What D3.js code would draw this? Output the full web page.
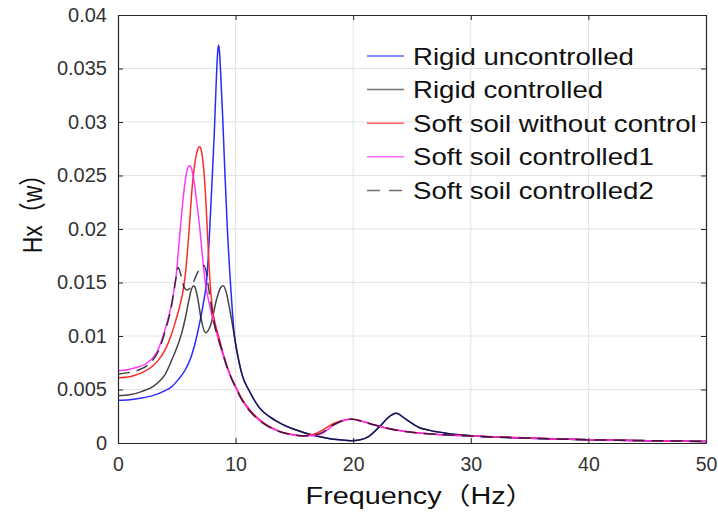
<!DOCTYPE html>
<html>
<head>
<meta charset="utf-8">
<script src="https://cdn.jsdelivr.net/npm/d3@7"></script>
<style>
  body { margin: 0; background: #fff; }
  text { font-family: "Liberation Sans", Arial, "Noto Sans CJK SC", sans-serif; }
</style>
</head>
<body>
<svg id="chart" width="718" height="512"></svg>
<script>
"use strict";

// [frequency (Hz), Hx]
const rigidUncontrolled = [
  [0,0.00400],[1,0.00405],[2,0.00420],[3,0.00445],[4,0.00490],[4.55,0.00525],[5.1,0.00590],
  [5.7,0.00680],[6.2,0.00800],[6.55,0.00930],[6.9,0.01100],[7.25,0.01300],[7.6,0.01600],
  [7.8,0.02000],[8.0,0.02450],[8.2,0.02930],[8.38,0.03450],[8.48,0.03660],[8.55,0.03720],
  [8.62,0.03670],[8.72,0.03480],[8.9,0.03050],[9.1,0.02500],[9.3,0.02000],[9.55,0.01520],
  [9.9,0.01000],[10.25,0.00780],[10.6,0.00620],[11.1,0.00500],[11.95,0.00340],[13.4,0.00210],
  [14.8,0.00135],[16.2,0.00085],[17.6,0.00050],[18.6,0.00032],[19.8,0.00022],[20.6,0.00030],
  [21.3,0.00060],[22.3,0.00160],[23.0,0.00240],[23.65,0.00277],[24.5,0.00220],[25.6,0.00145],
  [26.5,0.00118],[28,0.00090],[30,0.00068],[35,0.00045],[40,0.00030],[45,0.00020],[50,0.00013]
];
const rigidControlled = [
  [0,0.00442],[1,0.00450],[2,0.00480],[3,0.00530],[3.5,0.00575],[4,0.00640],[4.55,0.00770],
  [5.0,0.00890],[5.4,0.01020],[5.75,0.01180],[6.0,0.01320],[6.25,0.01440],[6.42,0.01470],
  [6.6,0.01440],[6.8,0.01340],[7.05,0.01170],[7.45,0.01030],[7.9,0.01110],[8.4,0.01350],
  [8.75,0.01455],[8.95,0.01470],[9.2,0.01410],[9.5,0.01250],[9.9,0.01000],[10.25,0.00780],
  [10.6,0.00620],[11.1,0.00500],[11.95,0.00340],[13.4,0.00210],[14.8,0.00135],[16.2,0.00085],
  [17.6,0.00050],[18.6,0.00032],[19.8,0.00022],[20.6,0.00030],[21.3,0.00060],[22.3,0.00160],
  [23.0,0.00240],[23.65,0.00277],[24.5,0.00220],[25.6,0.00145],[26.5,0.00118],[28,0.00090],
  [30,0.00068],[35,0.00045],[40,0.00030],[45,0.00020],[50,0.00013]
];
const softNoControl = [
  [0,0.00610],[1,0.00620],[2,0.00655],[2.85,0.00710],[3.4,0.00770],[4.0,0.00870],[4.5,0.01000],
  [4.85,0.01120],[5.25,0.01280],[5.5,0.01400],[5.7,0.01550],[6.0,0.01920],[6.3,0.02380],
  [6.6,0.02660],[6.8,0.02750],[6.93,0.02770],[7.06,0.02745],[7.2,0.02650],[7.4,0.02400],
  [7.6,0.01980],[7.8,0.01550],[8.0,0.01280],[8.3,0.01100],[8.55,0.01000],[8.9,0.00850],
  [9.2,0.00740],[9.6,0.00620],[10,0.00530],[10.5,0.00420],[11.2,0.00310],[11.95,0.00225],
  [13.4,0.00125],[14.8,0.00080],[15.8,0.00068],[16.4,0.00074],[17.2,0.00108],[18.4,0.00185],
  [19.2,0.00213],[19.9,0.00224],[20.8,0.00202],[21.8,0.00170],[23.2,0.00131],[24.6,0.00106],
  [27.2,0.00080],[30,0.00066],[35,0.00046],[40,0.00031],[45,0.00022],[50,0.00015]
];
const softControlled1 = [
  [0,0.00676],[1,0.00690],[1.7,0.00710],[2.5,0.00750],[3.0,0.00800],[3.4,0.00870],[4.0,0.01060],
  [4.55,0.01300],[4.95,0.01570],[5.28,0.01980],[5.6,0.02350],[5.85,0.02535],[5.98,0.02580],
  [6.1,0.02590],[6.22,0.02575],[6.4,0.02490],[6.7,0.02250],[6.98,0.01980],[7.2,0.01720],
  [7.4,0.01520],[7.8,0.01280],[8.3,0.01060],[8.8,0.00870],[9.2,0.00730],[9.6,0.00615],
  [10,0.00520],[10.5,0.00410],[11.2,0.00300],[11.95,0.00218],[13.4,0.00120],[14.8,0.00078],
  [15.8,0.00066],[16.4,0.00067],[17.2,0.00082],[18.4,0.00170],[19.2,0.00210],[19.9,0.00222],
  [20.8,0.00200],[21.8,0.00168],[23.2,0.00130],[24.6,0.00105],[27.2,0.00080],[30,0.00065],
  [35,0.00045],[40,0.00030],[45,0.00022],[50,0.00015]
];
const softControlled2 = [
  [0,0.00645],[1,0.00660],[1.7,0.00680],[2.5,0.00725],[3.0,0.00780],[3.4,0.00850],[4.0,0.01040],
  [4.55,0.01280],[4.9,0.01520],[5.12,0.01640],[5.35,0.01570],[5.6,0.01460],[5.9,0.01430],
  [6.3,0.01480],[6.8,0.01600],[7.1,0.01650],[7.3,0.01660],[7.5,0.01600],[7.7,0.01450],
  [7.85,0.01340],[8.2,0.01110],[8.55,0.00970],[8.8,0.00880],[9.2,0.00735],[9.6,0.00615],
  [10,0.00520],[10.5,0.00410],[11.2,0.00300],[11.95,0.00218],[13.4,0.00120],[14.8,0.00078],
  [15.8,0.00066],[16.4,0.00068],[17.2,0.00090],[18.4,0.00175],[19.2,0.00211],[19.9,0.00223],
  [20.8,0.00201],[21.8,0.00169],[23.2,0.00130],[24.6,0.00105],[27.2,0.00080],[30,0.00065],
  [35,0.00045],[40,0.00030],[45,0.00022],[50,0.00015]
];

const seriesNames = ["Rigid uncontrolled", "Rigid controlled", "Soft soil without control",
                     "Soft soil controlled1", "Soft soil controlled2"];
const xTicks = [0, 10, 20, 30, 40, 50];
const yTicks = [0, 0.005, 0.01, 0.015, 0.02, 0.025, 0.03, 0.035, 0.04];

const series = [
  { name: seriesNames[0], data: rigidUncontrolled, color: "#2a2aff", opacity: 1,    dash: null },
  { name: seriesNames[1], data: rigidControlled,   color: "#111111", opacity: 0.78, dash: null },
  { name: seriesNames[2], data: softNoControl,     color: "#ff2a2a", opacity: 1,    dash: null },
  { name: seriesNames[3], data: softControlled1,   color: "#ff22ff", opacity: 0.9,  dash: null },
  { name: seriesNames[4], data: softControlled2,   color: "#111111", opacity: 0.8,  dash: "12,7" }
];

const margin = { left: 118, right: 706, top: 15, bottom: 443 };
const svg = d3.select("#chart");

const scaleX = d3.scaleLinear().domain([0, 50]).range([margin.left, margin.right]);
const scaleY = d3.scaleLinear().domain([0, 0.04]).range([margin.bottom, margin.top]);
const axisColor = "#262626";
const tickColor = "#333";
const stretch = 1.2; // text in the figure is drawn a little wide

// grid
svg.append("g")
  .selectAll("line")
  .data(xTicks.slice(1, -1))
  .join("line")
  .attr("x1", d => scaleX(d)).attr("x2", d => scaleX(d))
  .attr("y1", margin.top).attr("y2", margin.bottom)
  .attr("stroke", "#e3e3e3").attr("stroke-width", 1);
svg.append("g")
  .selectAll("line")
  .data(yTicks.slice(1, -1))
  .join("line")
  .attr("x1", margin.left).attr("x2", margin.right)
  .attr("y1", d => scaleY(d)).attr("y2", d => scaleY(d))
  .attr("stroke", "#e3e3e3").attr("stroke-width", 1);

// curves
const line = d3.line()
  .x(d => scaleX(d[0]))
  .y(d => scaleY(d[1]))
  .curve(d3.curveMonotoneX);

svg.append("g")
  .selectAll("path")
  .data(series)
  .join("path")
  .attr("d", d => line(d.data))
  .attr("fill", "none")
  .attr("stroke", d => d.color)
  .attr("stroke-opacity", d => d.opacity)
  .attr("stroke-width", 1.5)
  .attr("stroke-dasharray", d => d.dash);

// axes (box with inward ticks)
function styleAxis(g, size) {
  g.select(".domain").attr("stroke", axisColor).attr("stroke-width", 1.2);
  g.selectAll(".tick line").attr("stroke", axisColor);
  g.selectAll(".tick text").attr("fill", tickColor).attr("font-size", size)
    .attr("font-family", "Liberation Sans, Arial, sans-serif");
}
const fmt = d => String(+d.toFixed(3));

svg.append("g")
  .attr("transform", `translate(${margin.left},0)`)
  .call(d3.axisLeft(scaleY).tickValues(yTicks).tickSizeInner(-5).tickSizeOuter(0)
    .tickPadding(11).tickFormat(fmt))
  .call(styleAxis, 20);
svg.append("g")
  .attr("transform", `translate(0,${margin.bottom})`)
  .call(d3.axisBottom(scaleX).tickValues(xTicks).tickSizeInner(-5).tickSizeOuter(0)
    .tickPadding(14).tickFormat(d3.format("d")))
  .call(styleAxis, 19.5);
svg.append("g")
  .attr("transform", `translate(${margin.right},0)`)
  .call(d3.axisRight(scaleY).tickValues(yTicks).tickSizeInner(-5).tickSizeOuter(0).tickFormat(""))
  .call(styleAxis, 19);
svg.append("g")
  .attr("transform", `translate(0,${margin.top})`)
  .call(d3.axisTop(scaleX).tickValues(xTicks).tickSizeInner(-5).tickSizeOuter(0).tickFormat(""))
  .call(styleAxis, 19);

// axis titles
svg.append("text")
  .attr("transform", `translate(${(margin.left + margin.right) / 2 + 8},504) scale(${stretch},1)`)
  .attr("text-anchor", "middle")
  .attr("font-size", 24)
  .attr("fill", "#111")
  .text("Frequency（Hz）");
svg.append("text")
  .attr("transform", `translate(42,208) rotate(-90) scale(1,${stretch})`)
  .attr("text-anchor", "middle")
  .attr("font-size", 23)
  .attr("fill", "#111")
  .text("Hx（w）");

// legend
const legend = svg.append("g").attr("transform", "translate(367,56)");
const rows = legend.selectAll("g")
  .data(series)
  .join("g")
  .attr("transform", (d, i) => `translate(0,${i * 33.6})`);
rows.append("line")
  .attr("x1", 0).attr("x2", 37)
  .attr("y1", 0).attr("y2", 0)
  .attr("stroke", d => d.color)
  .attr("stroke-opacity", d => d.opacity * 0.75)
  .attr("stroke-width", 1.5)
  .attr("stroke-dasharray", d => d.dash ? "13,9" : null);
rows.append("text")
  .attr("transform", `translate(46,8.5) scale(${stretch},1)`)
  .attr("font-size", 23)
  .attr("fill", "#111")
  .text(d => d.name);
</script>
</body>
</html>
